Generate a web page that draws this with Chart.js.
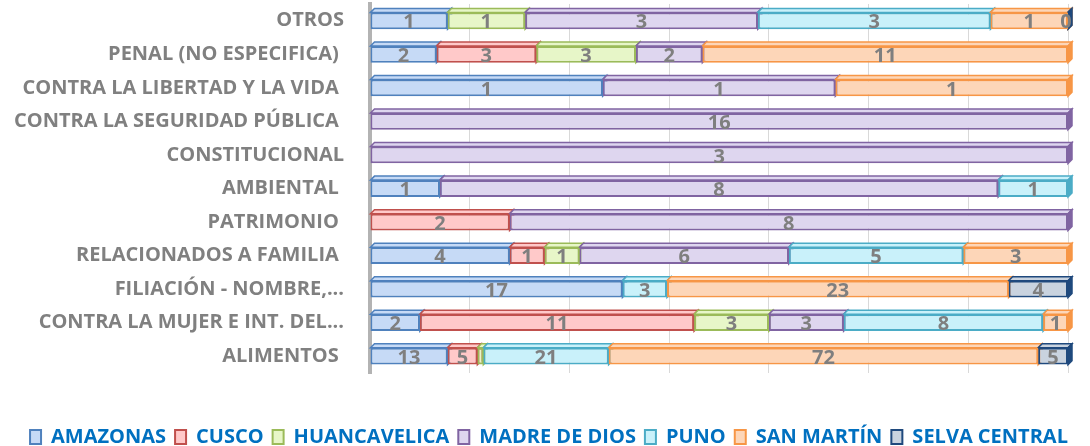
<!DOCTYPE html>
<html>
<head>
<meta charset="utf-8">
<script src="https://cdn.jsdelivr.net/npm/chart.js@4.4.1/dist/chart.umd.min.js"></script>
<style>
  html, body { margin: 0; padding: 0; background: #fff; }
  #wrap { width: 1090px; height: 446px; }
</style>
</head>
<body>
<div id="wrap"><canvas id="chart"></canvas></div>
<script>
// categories top to bottom
const categories = [
  'OTROS', 'PENAL (NO ESPECIFICA) ', 'CONTRA LA LIBERTAD Y LA VIDA ', 'CONTRA LA SEGURIDAD PÚBLICA ',
  'CONSTITUCIONAL', 'AMBIENTAL ', 'PATRIMONIO ', 'RELACIONADOS A FAMILIA ',
  'FILIACIÓN - NOMBRE,...', 'CONTRA LA MUJER E INT. DEL...', 'ALIMENTOS '
];

// raw counts per region (null = no bar)
const amazonas     = [1, 2, 1, null, null, 1, null, 4, 17, 2, 13];
const cusco        = [null, 3, null, null, null, null, 2, 1, null, 11, 5];
const huancavelica = [1, 3, null, null, null, null, null, 1, null, 3, 1];
const madreDeDios  = [3, 2, 1, 16, 3, 8, 8, 6, null, 3, null];
const puno         = [3, null, null, null, null, 1, null, 5, 3, 8, 21];
const sanMartin    = [1, 11, 1, null, null, null, null, 3, 23, 1, 72];
const selvaCentral = [0, null, null, null, null, null, null, null, 4, null, 5];

const series = [
  { label: 'AMAZONAS',      raw: amazonas,     fill: '#c6daf6', line: '#4f81bd' },
  { label: 'CUSCO',         raw: cusco,        fill: '#ffc9c9', line: '#c0504d' },
  { label: 'HUANCAVELICA',  raw: huancavelica, fill: '#e7f6c8', line: '#9bbb59' },
  { label: 'MADRE DE DIOS', raw: madreDeDios,  fill: '#ded6ef', line: '#8064a2' },
  { label: 'PUNO',          raw: puno,         fill: '#c9f1fa', line: '#4bacc6' },
  { label: 'SAN MARTÍN',    raw: sanMartin,    fill: '#fdd6b8', line: '#f79646' },
  { label: 'SELVA CENTRAL', raw: selvaCentral, fill: '#c9d3df', line: '#1f497d' }
];

// 100% stacked: turn counts into shares of each row
const totals = categories.map((c, i) => series.reduce((s, d) => s + (d.raw[i] || 0), 0));

const datasets = series.map(s => ({
  label: s.label,
  raw: s.raw,
  data: s.raw.map((v, i) => v === null ? null : v / totals[i] * 100),
  backgroundColor: s.fill,
  borderColor: s.line,
  borderWidth: 2,
  borderSkipped: false,
  categoryPercentage: 0.5,
  barPercentage: 1,
  topFill: s.fill
}));

const FONT = 'Open Sans';
const DEPTH = 4;

// fake 3d top and side faces, painted before the front faces
const bar3d = {
  id: 'bar3d',
  beforeDatasetsDraw(chart) {
    const ctx = chart.ctx;
    chart.data.datasets.forEach((ds, di) => {
      chart.getDatasetMeta(di).data.forEach((bar, i) => {
        if (ds.data[i] === null) return;
        const { x, y, base, height } = bar.getProps(['x', 'y', 'base', 'height'], true);
        const l = Math.min(x, base), r = Math.max(x, base);
        const t = y - height / 2, b = y + height / 2;
        ctx.save();
        ctx.lineWidth = 1.5;
        ctx.strokeStyle = ds.borderColor;
        ctx.fillStyle = ds.topFill;
        ctx.beginPath();
        ctx.moveTo(l, t); ctx.lineTo(l + DEPTH, t - DEPTH);
        ctx.lineTo(r + DEPTH, t - DEPTH); ctx.lineTo(r, t); ctx.closePath();
        ctx.fill(); ctx.stroke();
        ctx.fillStyle = ds.borderColor;
        ctx.beginPath();
        ctx.moveTo(r, t); ctx.lineTo(r + DEPTH, t - DEPTH);
        ctx.lineTo(r + DEPTH, b - DEPTH); ctx.lineTo(r, b); ctx.closePath();
        ctx.fill(); ctx.stroke();
        ctx.restore();
      });
    });
  }
};

// value labels in the middle of each segment
const valueLabels = {
  id: 'valueLabels',
  afterDatasetsDraw(chart) {
    const ctx = chart.ctx;
    ctx.save();
    ctx.font = `bold 20px "${FONT}"`;
    ctx.fillStyle = '#7f7f7f';
    ctx.textAlign = 'center';
    ctx.textBaseline = 'middle';
    chart.data.datasets.forEach((ds, di) => {
      chart.getDatasetMeta(di).data.forEach((bar, i) => {
        const v = ds.raw[i];
        if (v === null) return;
        const { x, y, base } = bar.getProps(['x', 'y', 'base'], true);
        const w = Math.abs(x - base);
        if (v > 0 && w < 8) return;
        let cx = (x + base) / 2;
        if (v === 0) cx = x - 2;
        ctx.fillText(String(v), cx, y + 2);
      });
    });
    ctx.restore();
  }
};

// nudge the legend a bit right and down, like the original
const legendShift = {
  id: 'legendShift',
  afterLayout(chart) {
    const lg = chart.legend;
    lg.left += 15; lg.right += 15;
    lg.top += 11; lg.bottom += 11;
  }
};

new Chart(document.getElementById('chart'), {
  type: 'bar',
  data: { labels: categories, datasets },
  plugins: [bar3d, valueLabels, legendShift],
  options: {
    indexAxis: 'y',
    responsive: true,
    maintainAspectRatio: false,
    animation: false,
    layout: { padding: { top: 4, right: 22, bottom: 0, left: 0 } },
    scales: {
      x: {
        stacked: true,
        min: 0, max: 100,
        ticks: { display: false, stepSize: 100 / 7 },
        grid: { color: '#d9d9d9', drawTicks: false },
        border: { display: false },
        afterFit(scale) { scale.height = 34; }
      },
      y: {
        stacked: true,
        ticks: { color: '#808080', font: { family: FONT, size: 20, weight: 'bold' }, padding: 18, autoSkip: false },
        grid: { display: false },
        border: { display: true, color: '#b3b3b3', width: 4 },
        afterFit(scale) {
          scale.width = 370;
          scale.paddingTop = 0;
          scale.paddingBottom = 0;
        }
      }
    },
    plugins: {
      legend: {
        position: 'bottom',
        labels: {
          color: '#0070c0',
          font: { family: FONT, size: 20, weight: 'bold' },
          boxWidth: 11,
          boxHeight: 14,
          padding: 9
        }
      },
      tooltip: { enabled: false }
    }
  }
});
</script>
</body>
</html>
